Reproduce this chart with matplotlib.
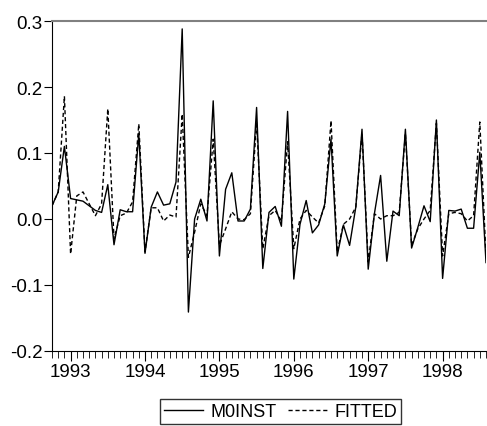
import numpy as np
import pandas as pd
import matplotlib.pyplot as plt

plt.rcParams['font.family'] = ['Liberation Sans', 'DejaVu Sans']

# monthly observations 1992M10 - 1998M8
dates = pd.period_range("1992-10", "1998-08", freq="M")

m0inst = [0.020, 0.041, 0.110, 0.031, 0.029, 0.027, 0.020, 0.013, 0.010, 0.052,
          -0.039, 0.014, 0.011, 0.011, 0.129, -0.052, 0.018, 0.041, 0.021, 0.023,
          0.056, 0.288, -0.141, 0.000, 0.030, -0.003, 0.179, -0.056, 0.045, 0.070,
          -0.003, -0.003, 0.015, 0.169, -0.075, 0.010, 0.019, -0.011, 0.163, -0.091,
          -0.008, 0.028, -0.021, -0.009, 0.023, 0.121, -0.056, -0.009, -0.040, 0.018,
          0.136, -0.076, 0.008, 0.066, -0.064, 0.012, 0.005, 0.136, -0.044, -0.013,
          0.020, -0.004, 0.150, -0.090, 0.013, 0.012, 0.015, -0.014, -0.014, 0.101,
          -0.066]

fitted = [0.020, 0.041, 0.186, -0.053, 0.035, 0.041, 0.023, 0.005, 0.023, 0.167,
          -0.030, 0.005, 0.009, 0.026, 0.144, -0.050, 0.017, 0.017, -0.003, 0.006,
          0.003, 0.159, -0.058, -0.020, 0.023, 0.005, 0.121, -0.040, -0.015, 0.011,
          0.000, -0.001, 0.008, 0.147, -0.045, 0.005, 0.013, -0.003, 0.117, -0.045,
          0.000, 0.013, 0.003, -0.006, 0.020, 0.149, -0.050, -0.008, 0.000, 0.018,
          0.130, -0.065, 0.008, 0.000, 0.005, 0.005, 0.010, 0.130, -0.040, -0.015,
          0.000, 0.013, 0.145, -0.056, 0.008, 0.010, 0.008, -0.003, 0.005, 0.147,
          -0.056]

x = np.arange(len(dates))

fig = plt.figure(figsize=(4.87, 4.27), dpi=100)
ax = fig.add_axes([52/487, 75/427, 434/487, 330/427])

ax.plot(x, m0inst, color="black", lw=1.0, label="M0INST")
ax.plot(x, fitted, color="black", lw=1.0, ls=(0, (3, 2)), label="FITTED")

ax.set_xlim(0, len(x) - 1)
ax.set_ylim(-0.2, 0.3)
ax.set_yticks([-0.2, -0.1, 0.0, 0.1, 0.2, 0.3])
ax.set_yticklabels(["-0.2", "-0.1", "0.0", "0.1", "0.2", "0.3"])

jan = [i for i, d in enumerate(dates) if d.month == 1]
ax.set_xticks(jan)
ax.set_xticklabels([str(dates[i].year) for i in jan])
ax.set_xticks(x, minor=True)
ax.tick_params(axis="x", which="major", length=7, direction="out", labelsize=13.5, pad=2)
ax.tick_params(axis="x", which="minor", length=5, direction="out")
ax.tick_params(axis="y", length=6, direction="out", labelsize=13.5, pad=1)

ax.spines["top"].set_color("#808080")
ax.spines["top"].set_linewidth(1.5)
ax.spines["right"].set_visible(False)

fig.legend(loc="center", bbox_to_anchor=(280.5/487, 14.5/427), ncol=2,
           fontsize=13, frameon=True, fancybox=False, edgecolor="black",
           handlelength=2.2, handletextpad=0.4, columnspacing=0.6,
           borderpad=0.2)

fig.savefig("out.png", dpi=100)
